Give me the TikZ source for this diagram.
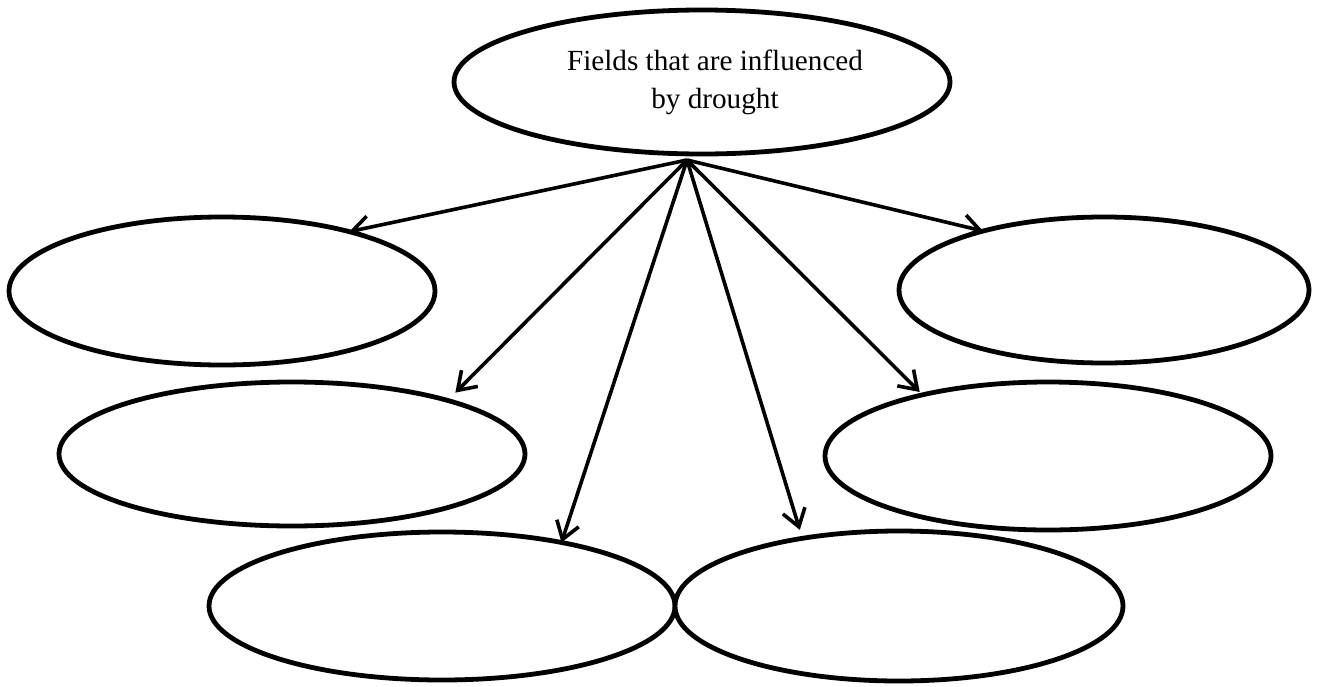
\documentclass[tikz,border=0pt]{standalone}
\usepackage{fontspec}
\setmainfont{Liberation Serif}
\usetikzlibrary{shapes.geometric,arrows.meta}
\begin{document}
\begin{tikzpicture}[x=0.5pt,y=-0.5pt,
  ell/.style={ellipse,draw=black,line width=2.4pt,inner sep=0pt,outer sep=0pt,fill=white},
  arr/.style={line width=1.8pt,-{Straight Barb[length=8.5pt,width=11.5pt,line width=1.8pt]}},
  txt/.style={align=center,font=\fontsize{14.6}{19}\selectfont,inner sep=0pt}]
\useasboundingbox (0,0) rectangle (1317,686);
\node[ell,minimum width=248pt,minimum height=72pt] (top) at (702,82) {};
\node[txt] (title) at (715,82) {Fields that are influenced\\by drought};
\node[ell,minimum width=213pt,minimum height=74pt] (lt) at (222,291) {};
\node[ell,minimum width=205pt,minimum height=73pt] (rt) at (1104,290) {};
\node[ell,minimum width=233pt,minimum height=72pt] (lm) at (292,454) {};
\node[ell,minimum width=223pt,minimum height=74pt] (rm) at (1048,456) {};
\node[ell,minimum width=233pt,minimum height=74pt] (bl) at (442,606) {};
\node[ell,minimum width=224pt,minimum height=75pt] (br) at (899,606) {};
\coordinate (o) at (687,160);
\draw[arr] (o) -- (lt.25);
\draw[arr,shorten >=5.5pt] (o) -- (lm.19.2);
\draw[arr] (o) -- (bl.28.8);
\draw[arr,shorten >=4.4pt] (o) -- (br.145);
\draw[arr,shorten >=2pt] (o) -- (rm.154.3);
\draw[arr] (o) -- (rt.154.3);
\end{tikzpicture}
\end{document}
